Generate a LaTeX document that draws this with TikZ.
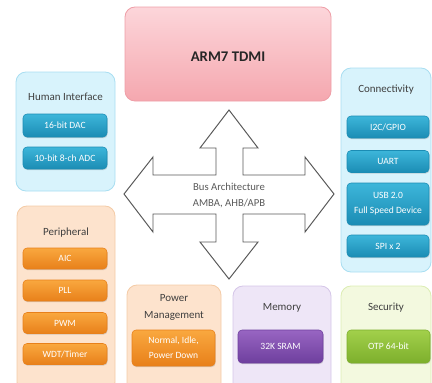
\documentclass[tikz,border=0pt]{standalone}
\usepackage{fontspec}
\setmainfont{Carlito}
\usetikzlibrary{shadows}

\definecolor{cyanbg}{HTML}{D8F3FC}
\definecolor{cyanedge}{HTML}{A9DEF1}
\definecolor{bluetop}{HTML}{3DB6DA}
\definecolor{bluebot}{HTML}{1B8CB4}
\definecolor{peachbg}{HTML}{FDE3CD}
\definecolor{peachedge}{HTML}{F4CBA6}
\definecolor{orangetop}{HTML}{F9A83F}
\definecolor{orangebot}{HTML}{E8801A}
\definecolor{lilacbg}{HTML}{EEE6F7}
\definecolor{lilacedge}{HTML}{D5C6E8}
\definecolor{purpletop}{HTML}{9865C2}
\definecolor{purplebot}{HTML}{6E3F9E}
\definecolor{limebg}{HTML}{F3F9DF}
\definecolor{limeedge}{HTML}{DCEDB3}
\definecolor{greentop}{HTML}{A2D04B}
\definecolor{greenbot}{HTML}{7DAF2C}
\definecolor{pinktop}{HTML}{FCD6DA}
\definecolor{pinkbot}{HTML}{F5A7AF}
\definecolor{pinkedge}{HTML}{EE9EA7}
\definecolor{titlegray}{HTML}{3F3F3F}
\definecolor{busgray}{HTML}{5A5A5A}

\begin{document}
\begin{tikzpicture}[x=0.025cm, y=-0.025cm]
        % one unit = one pixel of the original
        \def\u{0.025cm}
        \useasboundingbox (0,0) rectangle (432,382);
        \clip (0,0) rectangle (432,382);

        \tikzstyle{groupbox} = [rounded corners=0.25cm, line width=0.6pt, inner sep=0pt]
        \tikzstyle{grouptitle} = [text=titlegray, font=\fontsize{7.8}{12}\selectfont, align=center, inner sep=0pt]
        \tikzstyle{unit} = [rounded corners=0.1cm, text=white, font=\fontsize{6.8}{10.5}\selectfont, align=center, inner sep=0pt, minimum width=83*\u, minimum height=22*\u, drop shadow={opacity=0.3, shadow xshift=0.4pt, shadow yshift=-0.8pt}]
        \tikzstyle{blueunit} = [unit, top color=bluetop, bottom color=bluebot, draw=bluebot]
        \tikzstyle{orangeunit} = [unit, top color=orangetop, bottom color=orangebot, draw=orangebot]

        % 1. processor core
        \node[groupbox, top color=pinktop, bottom color=pinkbot, draw=pinkedge, minimum width=206*\u, minimum height=94*\u] (arm) at (228,54) {};
        \node[font=\fontsize{10.5}{12}\selectfont\bfseries, text=black!85] (armtitle) at (228,57) {ARM7 TDMI};

        % 2. human interface
        \node[groupbox, fill=cyanbg, draw=cyanedge, minimum width=99*\u, minimum height=119*\u] (human) at (65.5,131.5) {};
        \node[grouptitle] (humantitle) at (65.5,97) {Human Interface};
        \node[blueunit, minimum width=84*\u, minimum height=23*\u] (dac) at (65,125.5) {16-bit DAC};
        \node[blueunit, minimum width=84*\u] (adc) at (65,158) {10-bit 8-ch ADC};

        % 3. connectivity
        \node[groupbox, fill=cyanbg, draw=cyanedge, minimum width=90*\u, minimum height=204*\u] (conn) at (386,170) {};
        \node[grouptitle] (conntitle) at (386,90) {Connectivity};
        \node[blueunit, minimum width=82*\u] (i2c) at (388,127) {I2C/GPIO};
        \node[blueunit, minimum width=82*\u] (uart) at (388,161.5) {UART};
        \node[blueunit, minimum width=82*\u, minimum height=42*\u] (usb) at (388,204) {USB 2.0\\Full Speed Device};
        \node[blueunit, minimum width=82*\u] (spi) at (388,246) {SPI x 2};

        % 4. peripheral
        \node[groupbox, fill=peachbg, draw=peachedge, minimum width=98*\u, minimum height=186*\u] (periph) at (66,299) {};
        \node[grouptitle] (periphtitle) at (66,233) {Peripheral};
        \node[orangeunit, minimum width=84*\u, minimum height=21*\u] (aic) at (65,258.5) {AIC};
        \node[orangeunit, minimum width=84*\u, minimum height=21*\u] (pll) at (65,290.5) {PLL};
        \node[orangeunit, minimum width=84*\u, minimum height=21*\u] (pwm) at (65,323) {PWM};
        \node[orangeunit, minimum width=84*\u, minimum height=21*\u] (wdt) at (65,354) {WDT/Timer};

        % 5. power management
        \node[groupbox, fill=peachbg, draw=peachedge, minimum width=94*\u, minimum height=110*\u] (power) at (174,340) {};
        \node[grouptitle] (powertitle) at (174,307.5) {Power\\Management};
        \node[orangeunit, minimum width=83*\u, minimum height=36*\u] (pwrmodes) at (173.5,348) {Normal, Idle,\\Power Down};

        % 6. memory
        \node[groupbox, fill=lilacbg, draw=lilacedge, minimum width=98*\u, minimum height=110*\u] (memory) at (282,341) {};
        \node[grouptitle] (memtitle) at (282,308) {Memory};
        \node[unit, top color=purpletop, bottom color=purplebot, draw=purplebot, minimum width=85*\u, minimum height=33*\u] (sram) at (280.5,346.5) {32K SRAM};

        % 7. security
        \node[groupbox, fill=limebg, draw=limeedge, minimum width=90*\u, minimum height=110*\u] (security) at (386,341) {};
        \node[grouptitle] (sectitle) at (386,308) {Security};
        \node[unit, top color=greentop, bottom color=greenbot, draw=greenbot, minimum width=83*\u, minimum height=33*\u] (otp) at (388.5,346.5) {OTP 64-bit};

        % 8. four-way bus arrow
        \draw[line width=0.7pt, draw=black!65, fill=white]
            (229,110) -- (258,148) -- (243,148) -- (243,175) -- (305,175) -- (305,157)
            -- (334,194) -- (305,232) -- (305,214) -- (243,214) -- (243,242) -- (258,242)
            -- (229,279) -- (200,242) -- (216,242) -- (216,214) -- (153,214) -- (153,232)
            -- (124,194) -- (153,157) -- (153,175) -- (216,175) -- (216,148) -- (200,148) -- cycle;
        \node[text=busgray, font=\fontsize{7.6}{12}\selectfont, align=center] (bus) at (229,195.5) {Bus Architecture\\AMBA, AHB/APB};

    \end{tikzpicture}
\end{document}
